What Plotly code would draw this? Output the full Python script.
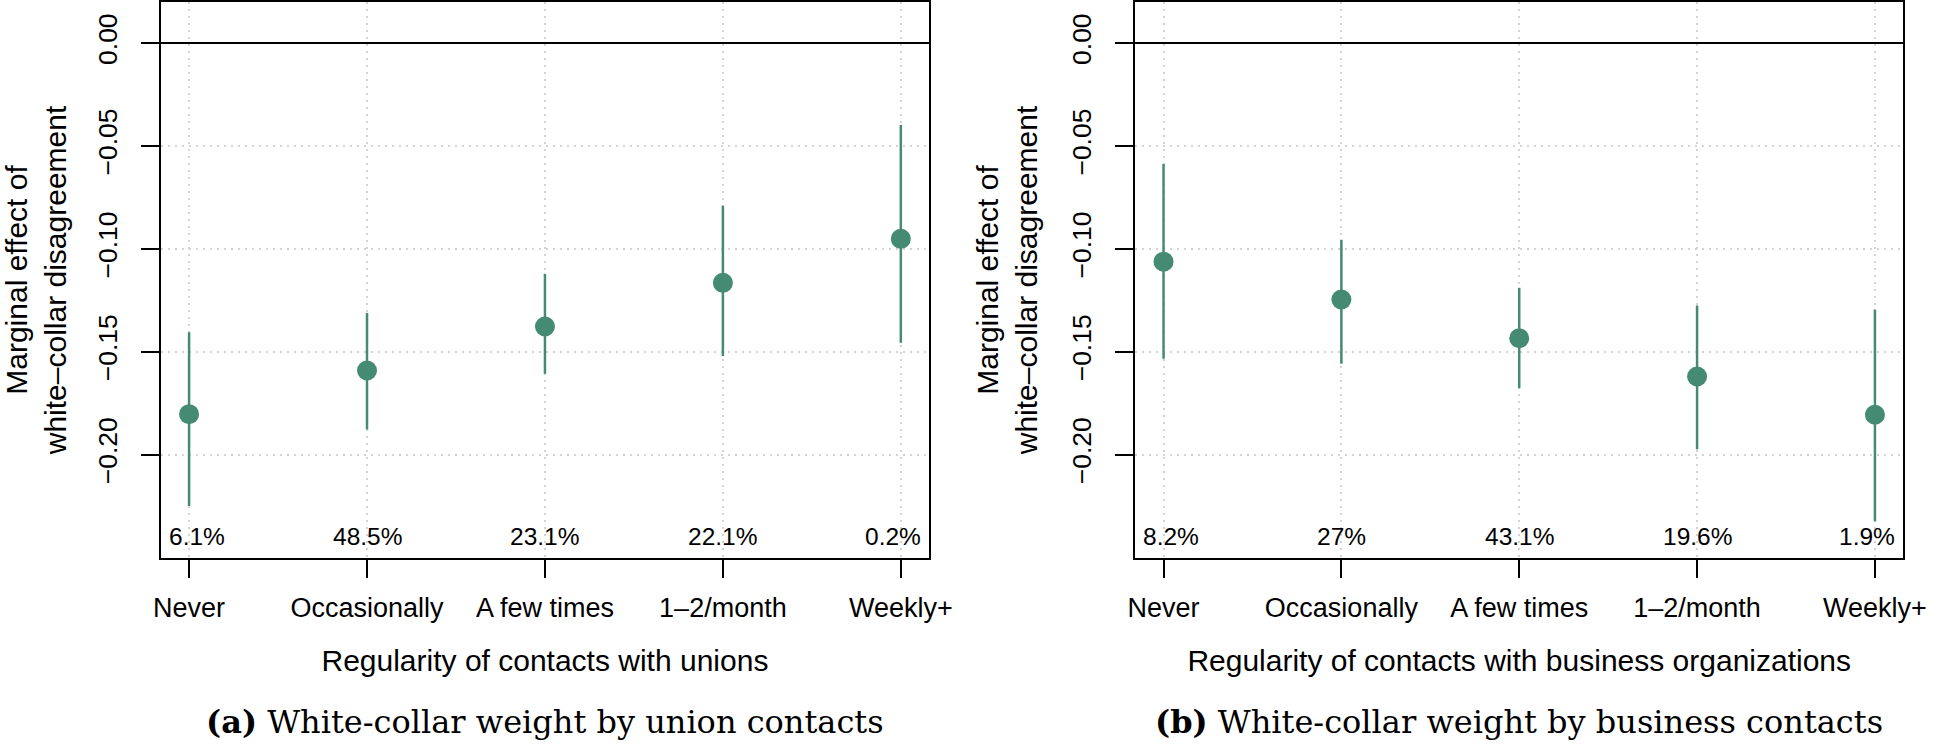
import plotly.graph_objects as go
from plotly.subplots import make_subplots

# ---------------- data ----------------
categories = ["Never", "Occasionally", "A few times", "1–2/month", "Weekly+"]

union_est = [-0.1803, -0.1591, -0.1377, -0.1165, -0.0951]
union_lo = [-0.2250, -0.1877, -0.1607, -0.1521, -0.1456]
union_hi = [-0.1405, -0.1311, -0.1121, -0.0790, -0.0398]
union_pct = ["6.1%", "48.5%", "23.1%", "22.1%", "0.2%"]

bus_est = [-0.1062, -0.1246, -0.1434, -0.1620, -0.1806]
bus_lo = [-0.1534, -0.1558, -0.1677, -0.1974, -0.2324]
bus_hi = [-0.0587, -0.0956, -0.1189, -0.1275, -0.1295]
bus_pct = ["8.2%", "27%", "43.1%", "19.6%", "1.9%"]

y_tickvals = [0.0, -0.05, -0.10, -0.15, -0.20]
y_ticktext = ["0.00", "−0.05", "−0.10", "−0.15", "−0.20"]

x_titles = ["Regularity of contacts with unions",
            "Regularity of contacts with business organizations"]
y_title = "Marginal effect of<br>white–collar disagreement"
captions = ["<b>(a)</b> White-collar weight by union contacts",
            "<b>(b)</b> White-collar weight by business contacts"]
pct_label_y = -0.24

# ---------------- style ----------------
W, H = 1951, 744
COLOR = "#458B74"
SANS = "Liberation Sans, Arial, Helvetica, sans-serif"
SERIF = "DejaVu Serif, Liberation Serif, serif"
X_RANGE = [-0.16, 4.16]
Y_RANGE = [-0.2502, 0.0200]

fig = make_subplots(rows=1, cols=2)

panels = [
    (union_est, union_lo, union_hi, union_pct),
    (bus_est, bus_lo, bus_hi, bus_pct),
]

for i, (est, lo, hi, pct) in enumerate(panels, start=1):
    fig.add_trace(
        go.Scatter(
            x=categories,
            y=est,
            mode="markers",
            marker=dict(size=20, color=COLOR, line=dict(width=0)),
            error_y=dict(
                type="data",
                symmetric=False,
                array=[h - e for h, e in zip(hi, est)],
                arrayminus=[e - l for e, l in zip(est, lo)],
                color=COLOR,
                thickness=2.5,
                width=0,
            ),
            showlegend=False,
        ),
        row=1, col=i,
    )
    xref = "x" if i == 1 else "x2"
    yref = "y" if i == 1 else "y2"
    n = len(categories)
    for j, (c, t) in enumerate(zip(categories, pct)):
        if j == 0:
            xpos, anchor = X_RANGE[0] + 0.035, "left"
        elif j == n - 1:
            xpos, anchor = X_RANGE[1] - 0.035, "right"
        else:
            xpos, anchor = j, "center"
        fig.add_annotation(
            x=xpos, y=pct_label_y, xref=xref, yref=yref, text=t,
            showarrow=False, xanchor=anchor, yanchor="middle",
            font=dict(family=SANS, size=24.5, color="black"),
        )

x_domains = [[156 / W, 936.7 / W], [1145.7 / W, 1926 / W]]
y_domain = [1 - 557.7 / H, 1 - 1.0 / H]

axis_common = dict(
    showline=True, mirror=True, linecolor="black", linewidth=2,
    ticks="outside", ticklen=18, tickwidth=2, tickcolor="black",
    showgrid=True, gridcolor="#D3D3D3", gridwidth=1.5, griddash="2px,5px",
)

for i in (1, 2):
    sfx = "" if i == 1 else str(i)
    fig.layout["xaxis" + sfx].update(
        domain=x_domains[i - 1],
        type="category",
        categoryorder="array",
        categoryarray=categories,
        range=X_RANGE,
        tickfont=dict(family=SANS, size=27, color="black"),
        ticklabelstandoff=7,
        title=dict(text=x_titles[i - 1], font=dict(family=SANS, size=30, color="black"),
                   standoff=28),
        zeroline=False,
        **axis_common,
    )
    fig.layout["yaxis" + sfx].update(
        domain=y_domain,
        range=Y_RANGE,
        tickvals=y_tickvals,
        ticktext=y_ticktext,
        tickangle=-90,
        tickfont=dict(family=SANS, size=26.5, color="black"),
        ticklabelstandoff=13,
        title=dict(text=y_title, font=dict(family=SANS, size=30, color="black"),
                   standoff=21),
        zeroline=True, zerolinecolor="black", zerolinewidth=2,
        **axis_common,
    )
    fig.add_annotation(
        x=sum(x_domains[i - 1]) / 2, y=1 - 722 / H, xref="paper", yref="paper",
        text=captions[i - 1], showarrow=False, xanchor="center", yanchor="middle",
        font=dict(family=SERIF, size=32, color="black"),
    )

fig.update_layout(
    width=W, height=H,
    margin=dict(l=0, r=0, t=0, b=0),
    paper_bgcolor="white", plot_bgcolor="white",
    showlegend=False,
)

fig.write_html(
    "out.html",
    config={"displayModeBar": False},
    post_script="document.body.style.margin='0';",
)
